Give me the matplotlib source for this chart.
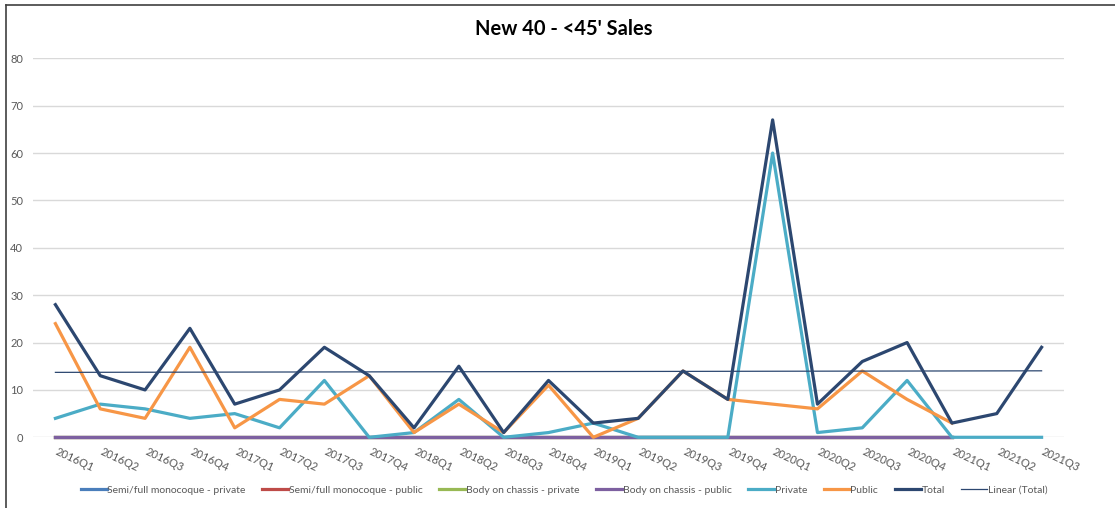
import matplotlib
matplotlib.use("Agg")
import matplotlib.pyplot as plt
import matplotlib.transforms as mtransforms
import numpy as np
from matplotlib.lines import Line2D

nan = float("nan")
quarters = ["2016Q1", "2016Q2", "2016Q3", "2016Q4", "2017Q1", "2017Q2", "2017Q3", "2017Q4",
            "2018Q1", "2018Q2", "2018Q3", "2018Q4", "2019Q1", "2019Q2", "2019Q3", "2019Q4",
            "2020Q1", "2020Q2", "2020Q3", "2020Q4", "2021Q1", "2021Q2", "2021Q3"]
semi_private = [0] * 21 + [nan, nan]
semi_public = [0] * 21 + [nan, nan]
body_private = [0] * 21 + [nan, nan]
body_public = [0] * 21 + [nan, nan]
private = [4, 7, 6, 4, 5, 2, 12, 0, 1, 8, 0, 1, 3, 0, 0, 0, 60, 1, 2, 12, 0, 0, 0]
public = [24, 6, 4, 19, 2, 8, 7, 13, 1, 7, 1, 11, 0, 4, 14, 8, 7, 6, 14, 8, 3, nan, nan]
total = [28, 13, 10, 23, 7, 10, 19, 13, 2, 15, 1, 12, 3, 4, 14, 8, 67, 7, 16, 20, 3, 5, 19]

plt.rcParams['font.family'] = ['Lato', 'DejaVu Sans']

fig = plt.figure(figsize=(11.15, 5.08), dpi=100)
W, H = 1115, 508
ax = fig.add_axes([33 / W, 1 - 437.3 / H, (1064 - 33) / W, (437.3 - 58.3) / H])

x = np.arange(len(quarters))
lw = 2.3
ax.plot(x, semi_private, color="#4A7EBB", lw=lw, label="Semi/full monocoque - private", zorder=3, clip_on=False)
ax.plot(x, semi_public, color="#BE4B48", lw=lw, label="Semi/full monocoque - public", zorder=3, clip_on=False)
ax.plot(x, body_private, color="#98B954", lw=lw, label="Body on chassis - private", zorder=3, clip_on=False)
ax.plot(x, body_public, color="#7D60A0", lw=lw, label="Body on chassis - public", zorder=3, clip_on=False)
ax.plot(x, private, color="#4BACC6", lw=lw, label="Private", zorder=4, clip_on=False)
ax.plot(x, public, color="#F79646", lw=lw, label="Public", zorder=5, clip_on=False)
ax.plot(x, total, color="#2C4770", lw=lw, label="Total", zorder=6, clip_on=False)
coef = np.polyfit(x, total, 1)
ax.plot(x, np.polyval(coef, x), color="#2C4770", lw=0.9, label="Linear (Total)", zorder=7)

ax.set_xlim(-0.5, len(quarters) - 0.5)
ax.set_ylim(0, 80)
ax.set_yticks(range(0, 81, 10))
ax.yaxis.grid(True, color="#D9D9D9", lw=1.0)
ax.set_axisbelow(True)
for s in ax.spines.values():
    s.set_visible(False)
ax.tick_params(axis='both', length=0, labelsize=8, colors="#595959")
ax.tick_params(axis='y', pad=7)
ax.set_xticks(x)
ax.set_xticklabels(quarters, rotation=-25, ha='left', va='top', rotation_mode='anchor')
ax.tick_params(axis='x', pad=6)
offset = mtransforms.ScaledTranslation(3 / 100, 0, fig.dpi_scale_trans)
for lab in ax.get_xticklabels():
    lab.set_transform(lab.get_transform() + offset)

fig.text(0.506, 1 - 29 / H, "New 40 - <45' Sales", ha='center', va='center',
         fontsize=14.5, fontweight='bold', color='black')

handles, labels = ax.get_legend_handles_labels()
leg = fig.legend(handles, labels, loc='center', bbox_to_anchor=(0.506, 1 - 490 / H), ncol=8,
                 frameon=False, fontsize=7.5, handlelength=2.5, handletextpad=0.05,
                 columnspacing=1.6, labelcolor="#595959")

fig.add_artist(Line2D([6 / W, 6 / W], [0, 1 - 5 / H], color="#404040", lw=1.2, transform=fig.transFigure))
fig.add_artist(Line2D([6 / W, 1], [1 - 5 / H, 1 - 5 / H], color="#404040", lw=1.2, transform=fig.transFigure))

fig.savefig("out.png", dpi=100)
